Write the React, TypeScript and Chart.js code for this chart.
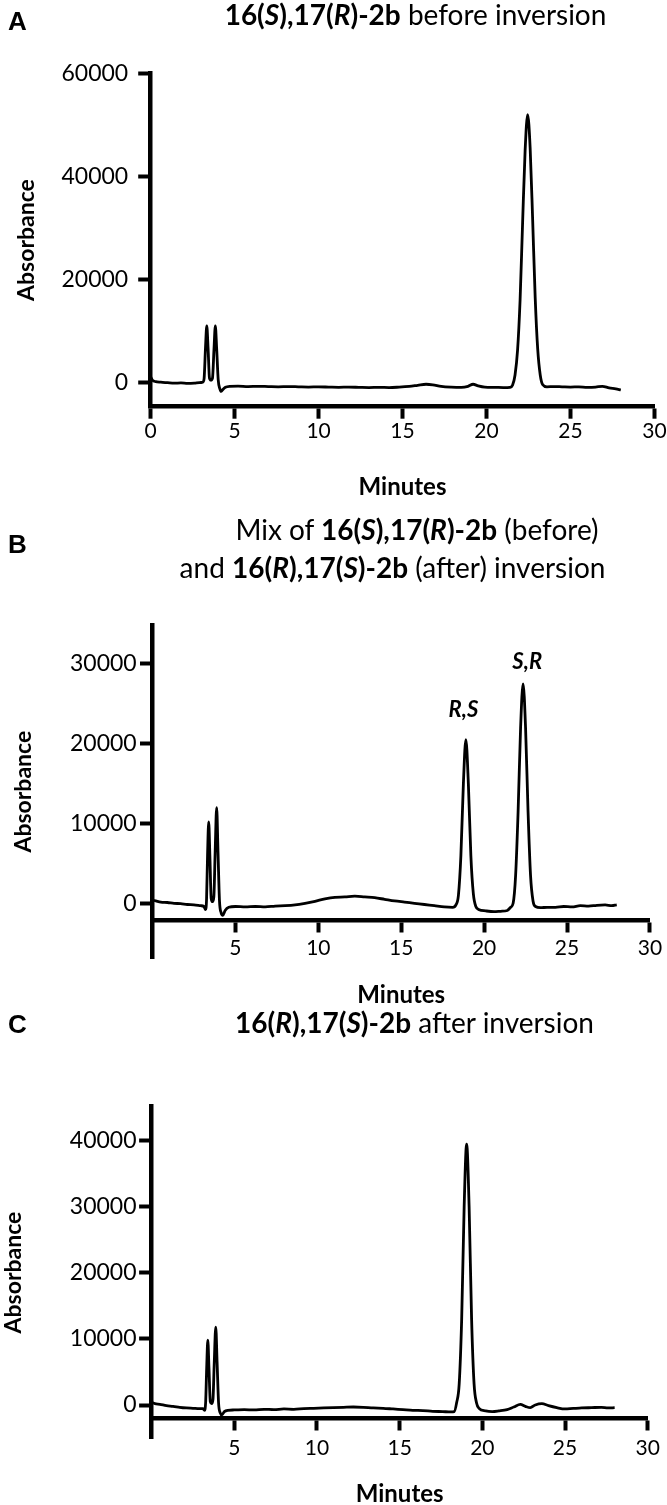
import React, { useEffect, useRef } from 'react';
import { Chart, registerables } from 'chart.js';

Chart.register(...registerables);

const FONT = 'Lato, "Open Sans", sans-serif';

// ---------- Panel A: 16(S),17(R)-2b before inversion ----------
const aTime = [
  0, 0.1, 0.3, 0.6, 1.0, 1.4, 1.8, 2.2, 2.6, 2.9,
  3.1, 3.18, 3.26, 3.34, 3.42, 3.5, 3.59, 3.68, 3.77, 3.85,
  3.93, 4.02, 4.12, 4.2, 4.3, 4.45, 4.7, 5.2, 5.8, 6.4,
  7.0, 7.6, 8.2, 8.8, 9.4, 10.0, 10.6, 11.2, 11.8, 12.4,
  13.0, 13.6, 14.2, 14.8, 15.4, 15.9, 16.4, 16.8, 17.3, 17.9,
  18.5, 18.9, 19.2, 19.5, 19.9, 20.5, 21.0, 21.4, 21.55, 21.7,
  21.85, 22.0, 22.15, 22.3, 22.45, 22.6, 22.75, 22.9, 23.05, 23.2,
  23.35, 23.6, 24.0, 24.5, 25.0, 25.5, 26.0, 26.5, 26.9, 27.3,
  27.7, 28.0,
];
const aAbs = [
  1100, 500, 200, 100, 0, -100, -50, -150, -100, 0,
  100, 800, 6500, 11000, 6500, 900, 500, 900, 6500, 11000,
  6500, 600, -1200, -1700, -1300, -900, -700, -650, -750, -700,
  -750, -800, -750, -800, -850, -800, -850, -900, -850, -900,
  -950, -900, -950, -850, -700, -500, -300, -400, -700, -850,
  -900, -700, -300, -600, -850, -900, -950, -900, -500, 1500,
  6300, 16000, 31000, 45000, 52000, 45500, 31500, 16500, 6500, 1500,
  -400, -800, -750, -800, -850, -800, -900, -850, -700, -1000,
  -1200, -1400,
];
const aYTicks = [0, 20000, 40000, 60000];
const aXTicks = [0, 5, 10, 15, 20, 25, 30];

// ---------- Panel B: mix ----------
const bTime = [
  0, 0.2, 0.5, 0.9, 1.3, 1.7, 2.1, 2.5, 2.9, 3.1,
  3.2, 3.26, 3.32, 3.39, 3.46, 3.54, 3.62, 3.7, 3.78, 3.87,
  3.95, 4.04, 4.14, 4.24, 4.38, 4.6, 5.0, 5.6, 6.2, 6.8,
  7.4, 8.0, 8.6, 9.2, 9.8, 10.4, 11.0, 11.6, 12.2, 12.8,
  13.4, 14.0, 14.6, 15.2, 15.8, 16.4, 17.0, 17.6, 18.1, 18.3,
  18.45, 18.6, 18.75, 18.9, 19.05, 19.2, 19.35, 19.5, 19.7, 20.1,
  20.6, 21.0, 21.4, 21.6, 21.75, 21.9, 22.05, 22.2, 22.35, 22.5,
  22.65, 22.8, 22.95, 23.1, 23.4, 23.8, 24.3, 24.8, 25.3, 25.8,
  26.3, 26.8, 27.3, 27.7, 28.0,
];
const bAbs = [
  400, 300, 150, 100, 0, -50, -150, -200, -300, -400,
  -800, 500, 6000, 10200, 6000, 600, 200, 800, 6500, 12000,
  6500, 300, -1200, -1500, -900, -500, -400, -450, -400, -450,
  -350, -300, -200, 0, 250, 550, 750, 800, 900, 800,
  700, 500, 300, 150, 0, -150, -300, -450, -500, -200,
  1000, 6000, 15000, 20500, 15000, 6000, 1200, -400, -800, -950,
  -1050, -1000, -900, -500, 0, 3500, 11500, 22000, 27500, 22000,
  11500, 3500, 300, -400, -550, -500, -500, -400, -450, -300,
  -350, -250, -200, -300, -200,
];
const bYTicks = [0, 10000, 20000, 30000];
const bXTicks = [5, 10, 15, 20, 25, 30];
const bPeakLabels = ['R,S', 'S,R'];
const bPeakLabelTime = [18.75, 22.6];
const bPeakLabelAbs = [24200, 30300];

// ---------- Panel C: 16(R),17(S)-2b after inversion ----------
const cTime = [
  0, 0.2, 0.5, 0.9, 1.3, 1.7, 2.1, 2.5, 2.9, 3.1,
  3.2, 3.27, 3.33, 3.4, 3.47, 3.55, 3.63, 3.71, 3.79, 3.88,
  3.96, 4.05, 4.15, 4.25, 4.4, 4.6, 5.0, 5.6, 6.2, 6.8,
  7.4, 8.0, 8.6, 9.2, 9.8, 10.4, 11.0, 11.6, 12.2, 12.8,
  13.4, 14.0, 14.6, 15.2, 15.8, 16.4, 17.0, 17.6, 18.1, 18.3,
  18.45, 18.6, 18.75, 18.9, 19.05, 19.2, 19.35, 19.5, 19.65, 19.8,
  20.2, 20.6, 21.0, 21.5, 21.9, 22.3, 22.6, 22.9, 23.2, 23.6,
  24.0, 24.5, 25.0, 25.5, 26.0, 26.6, 27.2, 27.6, 28.0,
];
const cAbs = [
  400, 200, 100, -100, -200, -350, -450, -500, -550, -550,
  -800, 500, 5500, 9800, 5500, 500, 200, 800, 6500, 11800,
  6500, 300, -1200, -1500, -1000, -800, -750, -700, -750, -650,
  -700, -600, -650, -550, -500, -450, -400, -350, -300, -350,
  -450, -500, -600, -700, -800, -850, -950, -1000, -1050, -1000,
  400, 3200, 13000, 30000, 39500, 30000, 13000, 3200, 300, -500,
  -900, -1000, -900, -700, -300, 100, -200, -400, 0, 200,
  -100, -400, -600, -500, -450, -400, -350, -450, -400,
];
const cYTicks = [0, 10000, 20000, 30000, 40000];
const cXTicks = [5, 10, 15, 20, 25, 30];

type PanelCfg = {
  top: number;
  height: number;
  time: number[];
  abs: number[];
  yMin: number;
  yMax: number;
  yTicks: number[];
  xTicks: number[];
  xAxisAt: number | null;
  pad: { top: number; bottom: number; left: number; right: number };
  yBoxW: number;
  xBoxH: number;
  xTickLen: number;
  xTickPad: number;
  xTitlePad: number;
  yTickPad: number;
  yTitlePad: number;
  labels?: string[];
  labelTime?: number[];
  labelAbs?: number[];
};

const peakLabelPlugin = {
  id: 'peakLabels',
  afterDatasetsDraw(chart: any, _args: any, opts: any) {
    const labels: string[] = opts.labels || [];
    if (!labels.length) return;
    const ctx = chart.ctx;
    ctx.save();
    ctx.fillStyle = '#000';
    ctx.font = 'italic bold 22px ' + FONT;
    ctx.textAlign = 'center';
    ctx.textBaseline = 'middle';
    labels.forEach((t, i) => {
      const x = chart.scales.x.getPixelForValue(opts.time[i]);
      const y = chart.scales.y.getPixelForValue(opts.abs[i]);
      ctx.fillText(t, x, y);
    });
    ctx.restore();
  },
};

function Panel({ cfg }: { cfg: PanelCfg }) {
  const ref = useRef<HTMLCanvasElement | null>(null);
  useEffect(() => {
    if (!ref.current) return;
    const chart = new Chart(ref.current, {
      type: 'line',
      data: {
        datasets: [
          {
            data: cfg.time.map((t, i) => ({ x: t, y: cfg.abs[i] })),
            borderColor: '#000',
            borderWidth: 2.8,
            pointRadius: 0,
            cubicInterpolationMode: 'monotone',
            fill: false,
          },
        ],
      },
      options: {
        animation: false,
        responsive: false,
        maintainAspectRatio: false,
        events: [],
        layout: { padding: cfg.pad },
        plugins: {
          legend: { display: false },
          tooltip: { enabled: false },
          title: { display: false },
          peakLabels: {
            labels: cfg.labels || [],
            time: cfg.labelTime || [],
            abs: cfg.labelAbs || [],
          },
        } as any,
        scales: {
          x: {
            type: 'linear',
            min: 0,
            max: 30,
            position: cfg.xAxisAt === null ? 'bottom' : ({ y: cfg.xAxisAt } as any),
            afterBuildTicks: (s: any) => {
              s.ticks = cfg.xTicks.map((v) => ({ value: v }));
            },
            afterFit: (s: any) => {
              s.height = cfg.xBoxH;
            },
            ticks: {
              color: '#000',
              font: { family: FONT, size: 21 },
              padding: cfg.xTickPad,
              maxRotation: 0,
              autoSkip: false,
              callback: (v: any) => String(v),
            },
            grid: {
              display: true,
              drawOnChartArea: false,
              drawTicks: true,
              tickLength: cfg.xTickLen,
              tickWidth: 4,
              tickColor: '#000',
              color: '#000',
            },
            border: { display: true, width: 4.5, color: '#000' },
            title: {
              display: true,
              text: 'Minutes',
              color: '#000',
              font: { family: FONT, size: 24, weight: 'bold' },
              padding: { top: 0, bottom: cfg.xTitlePad },
            },
          },
          y: {
            type: 'linear',
            min: cfg.yMin,
            max: cfg.yMax,
            afterBuildTicks: (s: any) => {
              s.ticks = cfg.yTicks.map((v) => ({ value: v }));
            },
            afterFit: (s: any) => {
              s.width = cfg.yBoxW;
            },
            ticks: {
              color: '#000',
              font: { family: FONT, size: 23 },
              padding: cfg.yTickPad,
              callback: (v: any) => String(v),
            },
            grid: {
              display: true,
              drawOnChartArea: false,
              drawTicks: true,
              tickLength: 12.5,
              tickWidth: 4,
              tickColor: '#000',
              color: '#000',
            },
            border: { display: true, width: 4.5, color: '#000' },
            title: {
              display: true,
              text: 'Absorbance',
              color: '#000',
              font: { family: FONT, size: 23, weight: 'bold' },
              padding: { top: cfg.yTitlePad, bottom: 0 },
            },
          },
        },
      } as any,
      plugins: [peakLabelPlugin],
    });
    return () => chart.destroy();
  }, []);
  return (
    <canvas
      ref={ref}
      width={667}
      height={cfg.height}
      style={{ position: 'absolute', left: 0, top: cfg.top, width: 667, height: cfg.height }}
    />
  );
}

const panelA: PanelCfg = {
  top: 0,
  height: 510,
  time: aTime,
  abs: aAbs,
  yMin: -4654,
  yMax: 60000,
  yTicks: aYTicks,
  xTicks: aXTicks,
  xAxisAt: null,
  pad: { top: 73.3, bottom: 3.3, left: 0, right: 12.6 },
  yBoxW: 150.7,
  xBoxH: 100,
  xTickLen: 12,
  xTickPad: 0,
  xTitlePad: 5.3,
  yTickPad: 10,
  yTitlePad: 13.2,
};

const panelB: PanelCfg = {
  top: 510,
  height: 500,
  time: bTime,
  abs: bAbs,
  yMin: -6892,
  yMax: 34875,
  yTicks: bYTicks,
  xTicks: bXTicks,
  xAxisAt: -2155,
  pad: { top: 115, bottom: 51.7, left: 0, right: 11 },
  yBoxW: 152.5,
  xBoxH: 95,
  xTickLen: 10,
  xTickPad: 4.9,
  xTitlePad: 6.1,
  yTickPad: 3.3,
  yTitlePad: 10.2,
  labels: bPeakLabels,
  labelTime: bPeakLabelTime,
  labelAbs: bPeakLabelAbs,
};

const panelC: PanelCfg = {
  top: 1010,
  height: 495,
  time: cTime,
  abs: cAbs,
  yMin: -5040,
  yMax: 45150,
  yTicks: cYTicks,
  xTicks: cXTicks,
  xAxisAt: -2013,
  pad: { top: 96.7, bottom: 66.7, left: 0, right: 13.5 },
  yBoxW: 151.6,
  xBoxH: 95,
  xTickLen: 10,
  xTickPad: 7.1,
  xTitlePad: 4.9,
  yTickPad: 2.6,
  yTitlePad: 0,
};

const titleStyle = (center: number, baseline: number): React.CSSProperties => ({
  position: 'absolute',
  left: center,
  top: baseline - 27.4,
  transform: 'translateX(-50%)',
  whiteSpace: 'nowrap',
  fontFamily: FONT,
  fontSize: 28,
  lineHeight: '33px',
  color: '#000',
});

const letterStyle = (baseline: number): React.CSSProperties => ({
  position: 'absolute',
  left: 8,
  top: baseline - 24,
  fontFamily: '"Liberation Sans", Arial, sans-serif',
  fontWeight: 'bold',
  fontSize: 26,
  lineHeight: '30px',
  color: '#000',
});

export default function App() {
  return (
    <div
      style={{
        position: 'absolute',
        left: 0,
        top: 0,
        width: 667,
        height: 1505,
        background: '#fff',
        overflow: 'hidden',
      }}
    >
      <Panel cfg={panelA} />
      <Panel cfg={panelB} />
      <Panel cfg={panelC} />

      <div style={letterStyle(30)}>A</div>
      <div style={titleStyle(415.5, 25)}>
        <b>16(<i>S</i>),17(<i>R</i>)-2b</b> before inversion
      </div>

      <div style={letterStyle(553)}>B</div>
      <div style={titleStyle(417, 540)}>
        Mix of <b>16(<i>S</i>),17(<i>R</i>)-2b</b> (before)
      </div>
      <div style={titleStyle(392.5, 578)}>
        and <b>16(<i>R</i>),17(<i>S</i>)-2b</b> (after) inversion
      </div>

      <div style={letterStyle(1033)}>C</div>
      <div style={titleStyle(414.5, 1033)}>
        <b>16(<i>R</i>),17(<i>S</i>)-2b</b> after inversion
      </div>
    </div>
  );
}
